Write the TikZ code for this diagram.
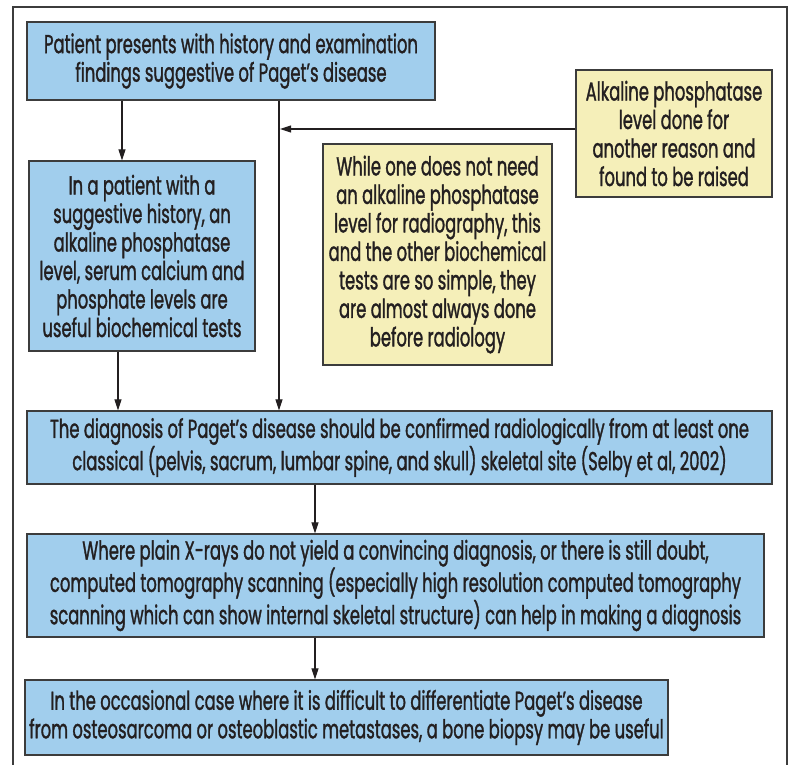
\documentclass[tikz,border=0pt]{standalone}
\usepackage{fontspec}
\setmainfont{Poppins}[FakeStretch=0.63, FakeBold=1.2]
\usetikzlibrary{arrows.meta}
\definecolor{boxblue}{RGB}{161,206,237}
\definecolor{boxyellow}{RGB}{245,239,185}
\definecolor{edge}{RGB}{60,60,60}
\definecolor{ink}{RGB}{35,31,32}

\begin{document}
\begin{tikzpicture}[x=1pt, y=-1pt,
	card/.style={draw=edge, line width=1.2pt, inner sep=0pt, align=center, text=ink, font=\fontsize{26}{28.5}\selectfont},
	bluebox/.style={card, fill=boxblue},
	yellowbox/.style={card, fill=boxyellow},
	arr/.style={-{Triangle[length=11pt,width=7pt]}, line width=1.1pt, ink}]
	\useasboundingbox (0,0) rectangle (792,765);
	\draw[edge, line width=1.2pt] (13,775) -- (13,7) -- (787,7) -- (787,775);

	\node[bluebox, minimum width=408pt, minimum height=78pt] (present) at (231,61)
		{Patient presents with history and examination\\findings suggestive of Paget’s disease};
	\node[bluebox, minimum width=226pt, minimum height=190pt] (tests) at (142,256)
		{In a patient with a\\suggestive history, an\\alkaline phosphatase\\level, serum calcium and\\phosphate levels are\\useful biochemical tests};
	\node[yellowbox, minimum width=196pt, minimum height=127pt] (raised) at (674,133.5)
		{Alkaline phosphatase\\level done for\\another reason and\\found to be raised};
	\node[yellowbox, minimum width=229pt, minimum height=221pt] (note) at (437.5,254.5)
		{While one does not need\\an alkaline phosphatase\\level for radiography, this\\and the other biochemical\\tests are so simple, they\\are almost always done\\before radiology};
	\node[bluebox, minimum width=745pt, minimum height=73pt] (confirm) at (399.5,447.5)
		{The diagnosis of Paget’s disease should be confirmed radiologically from at least one\\classical (pelvis, sacrum, lumbar spine, and skull) skeletal site (Selby et al, 2002)};
	\node[bluebox, minimum width=737pt, minimum height=103pt] (ct) at (395.5,585.5)
		{Where plain X-rays do not yield a convincing diagnosis, or there is still doubt,\\computed tomography scanning (especially high resolution computed tomography\\scanning which can show internal skeletal structure) can help in making a diagnosis};
	\node[bluebox, minimum width=643pt, minimum height=75pt] (biopsy) at (346.5,717.5)
		{In the occasional case where it is difficult to differentiate Paget’s disease\\from osteosarcoma or osteoblastic metastases, a bone biopsy may be useful};

	\coordinate (lane1) at (122,0);
	\coordinate (lane2) at (118,0);
	\coordinate (trunk) at (279,0);
	\coordinate (join) at (280,129);
	\coordinate (spine) at (315,0);

	\draw[arr] (present.south -| lane1) -- (tests.north -| lane1);
	\draw[arr] (tests.south -| lane2) -- (confirm.north -| lane2);
	\draw[arr] (present.south -| trunk) -- (confirm.north -| trunk);
	\draw[arr] (raised.west |- join) -- (join);
	\draw[arr] (confirm.south -| spine) -- (ct.north -| spine);
	\draw[arr] (ct.south -| spine) -- (biopsy.north -| spine);
\end{tikzpicture}
\end{document}
